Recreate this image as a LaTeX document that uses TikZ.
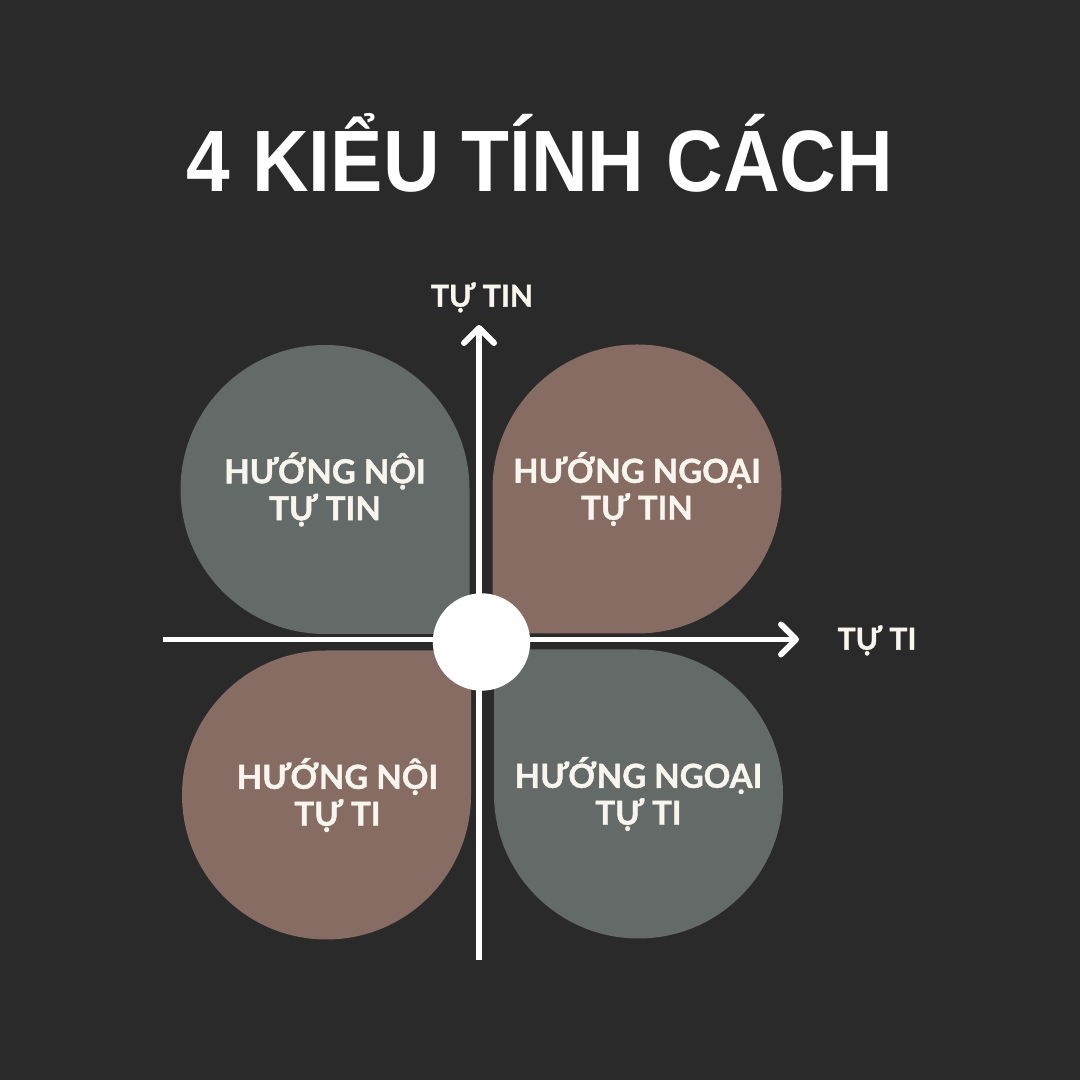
\documentclass[tikz,border=0pt]{standalone}
\usepackage{fontspec}
\setmainfont{Lato}[BoldFeatures={FakeBold=1.2}]
\newfontfamily\titlefont{Liberation Sans}
\usetikzlibrary{arrows.meta, calc, positioning}

\definecolor{backdrop}{HTML}{2A2A2A}
\definecolor{leafgrey}{HTML}{636A67}
\definecolor{leafbrown}{HTML}{866C62}
\definecolor{chalk}{HTML}{F7F5EE}

\tikzset{
    axis/.style={draw=white, line width=1.7pt, -{Straight Barb[round, length=1.5mm, width=3mm]}},
    quadlabel/.style={text=chalk, font=\fontsize{9.4}{10.5}\selectfont\bfseries, align=center},
    axislabel/.style={text=chalk, font=\fontsize{8.6}{10}\selectfont\bfseries},
}

\begin{document}
\begin{tikzpicture}
                            \fill[backdrop] (0, 0) rectangle (10.8, 10.8);

                            \node[text=white, anchor=base, font=\titlefont\fontsize{24.8}{28}\selectfont\bfseries] (title) at (5.4, 8.88) {\scalebox{0.9}[1]{4 KIỂU TÍNH CÁCH}};

                            \coordinate (noitin) at (3.25, 5.905);
                            \coordinate (ngoaitin) at (6.37, 5.91);
                            \coordinate (noiti) at (3.265, 2.85);
                            \coordinate (ngoaiti) at (6.385, 2.86);

                            \fill[leafgrey, shift={(noitin)}] (1.445, -1.445) -- (0, -1.445) arc[start angle=270, end angle=90, radius=1.445] arc[start angle=90, end angle=0, radius=1.445] -- cycle;
                            \fill[leafbrown, shift={(ngoaitin)}, rotate=-90] (1.445, -1.445) -- (0, -1.445) arc[start angle=270, end angle=90, radius=1.445] arc[start angle=90, end angle=0, radius=1.445] -- cycle;
                            \fill[leafbrown, shift={(noiti)}, rotate=90] (1.445, -1.445) -- (0, -1.445) arc[start angle=270, end angle=90, radius=1.445] arc[start angle=90, end angle=0, radius=1.445] -- cycle;
                            \fill[leafgrey, shift={(ngoaiti)}, rotate=180] (1.445, -1.445) -- (0, -1.445) arc[start angle=270, end angle=90, radius=1.445] arc[start angle=90, end angle=0, radius=1.445] -- cycle;

                            \node[quadlabel] (noitin-txt) at (noitin) {HƯỚNG NỘI\\TỰ TIN};
                            \node[quadlabel] (ngoaitin-txt) at (ngoaitin) {HƯỚNG NGOẠI\\TỰ TIN};
                            \node[quadlabel] (noiti-txt) at ($(noiti) + (0.11, 0)$) {HƯỚNG NỘI\\TỰ TI};
                            \node[quadlabel] (ngoaiti-txt) at (ngoaiti) {HƯỚNG NGOẠI\\TỰ TI};

                            \coordinate (ybot) at (4.79, 1.2);
                            \coordinate (ytop) at (4.79, 7.55);
                            \coordinate (xleft) at (1.63, 4.405);
                            \coordinate (xright) at (7.99, 4.405);

                            \draw[axis] (ybot) -- (ytop);
                            \draw[axis] (xleft) -- (xright);

                            \node[axislabel] (tutin) at (4.82, 7.825) {TỰ TIN};
                            \node[axislabel] (tuti) at (8.77, 4.395) {TỰ TI};

                            \node[circle, fill=white, minimum size=0.974cm, inner sep=0pt] (hub) at (4.815, 4.38) {};
                        \end{tikzpicture}
\end{document}
